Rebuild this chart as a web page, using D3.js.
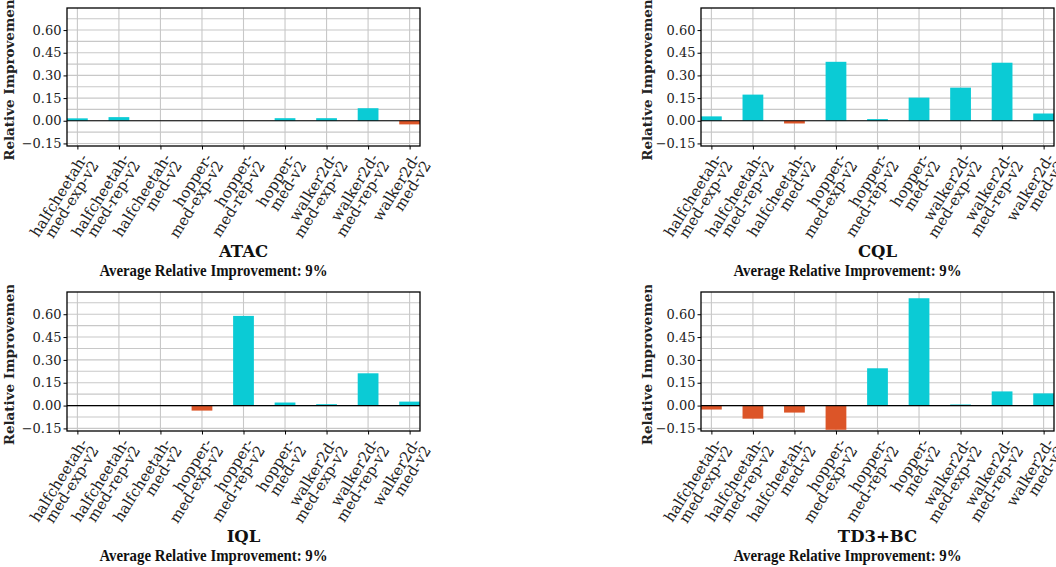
<!DOCTYPE html>
<html><head><meta charset="utf-8">
<script src="https://cdn.jsdelivr.net/npm/d3@7"></script>
<style>body{margin:0;background:#fff;} svg{display:block;}</style>
</head><body>
<svg id="chart" width="1056" height="567"></svg>
<script>
const categories = ["halfcheetah-med-exp-v2","halfcheetah-med-rep-v2","halfcheetah-med-v2",
  "hopper-med-exp-v2","hopper-med-rep-v2","hopper-med-v2",
  "walker2d-med-exp-v2","walker2d-med-rep-v2","walker2d-med-v2"];
const methods = ["ATAC","CQL","IQL","TD3+BC"];
const atacValues  = [0.016, 0.024, 0, 0, 0, 0.017, 0.017, 0.083, -0.024];
const cqlValues   = [0.029, 0.173, -0.018, 0.390, 0.011, 0.153, 0.219, 0.384, 0.048];
const iqlValues   = [0, 0, 0, -0.033, 0.589, 0.020, 0.009, 0.212, 0.026];
const td3bcValues = [-0.026, -0.086, -0.046, -0.159, 0.245, 0.705, 0.007, 0.093, 0.080];
const avgImprovementLabels = ["9%","9%","9%","9%"];
const yTickValues = [-0.15, 0, 0.15, 0.30, 0.45, 0.60];
const yGridValues = [-0.15,-0.075,0,0.075,0.15,0.225,0.30,0.375,0.45,0.525,0.60,0.675];
const yDomain = [-0.167, 0.746];
const yLabelText = "Relative Improvement";

const seriesValues = [atacValues, cqlValues, iqlValues, td3bcValues];

const panels = [
  {x0:67,  x1:420,  y0:8,   y1:146, clipTop:0,   labX:13.5},
  {x0:701, x1:1054, y0:8,   y1:146, clipTop:0,   labX:652},
  {x0:67,  x1:420,  y0:292, y1:431, clipTop:285, labX:13.5},
  {x0:701, x1:1054, y0:292, y1:431, clipTop:285, labX:652}
];

const svg = d3.select("#chart");
const defs = svg.append("defs");
const POS = "#0bcbd5", NEG = "#dc5528", GRID = "#c8c8c8";
const tickFont = "'DejaVu Serif', serif";

panels.forEach((p, i) => {
  const vals = seriesValues[i];
  const x = d3.scalePoint().domain(categories).range([p.x0, p.x1]).padding(0.25);
  const bw = x.step() * 0.5;
  const y = d3.scaleLinear().domain(yDomain).range([p.y1, p.y0]);
  const g = svg.append("g");

  defs.append("clipPath").attr("id", "plot" + i)
    .append("rect").attr("x", p.x0).attr("y", p.y0).attr("width", p.x1 - p.x0).attr("height", p.y1 - p.y0);
  defs.append("clipPath").attr("id", "lab" + i)
    .append("rect").attr("x", 0).attr("y", p.clipTop).attr("width", 1056).attr("height", 567 - p.clipTop);

  const plot = g.append("g").attr("clip-path", `url(#plot${i})`);
  plot.selectAll("line.hg").data(yGridValues).join("line")
    .attr("x1", p.x0).attr("x2", p.x1).attr("y1", d => y(d)).attr("y2", d => y(d))
    .attr("stroke", GRID).attr("stroke-width", 1.1);
  plot.selectAll("line.vg").data(categories).join("line")
    .attr("y1", p.y0).attr("y2", p.y1).attr("x1", d => x(d)).attr("x2", d => x(d))
    .attr("stroke", GRID).attr("stroke-width", 1.1);
  plot.selectAll("rect.bar").data(categories.map((c, k) => ({c, v: vals[k]}))).join("rect")
    .attr("x", d => x(d.c) - bw / 2).attr("width", bw)
    .attr("y", d => Math.min(y(d.v), y(0))).attr("height", d => Math.abs(y(d.v) - y(0)))
    .attr("fill", d => d.v >= 0 ? POS : NEG);
  plot.append("line").attr("x1", p.x0).attr("x2", p.x1).attr("y1", y(0)).attr("y2", y(0))
    .attr("stroke", "#000").attr("stroke-width", 1.2);

  g.append("rect").attr("x", p.x0).attr("y", p.y0).attr("width", p.x1 - p.x0).attr("height", p.y1 - p.y0)
    .attr("fill", "none").attr("stroke", "#000").attr("stroke-width", 1.3);

  const ya = g.append("g").attr("transform", `translate(${p.x0},0)`)
    .call(d3.axisLeft(y).tickValues(yTickValues).tickSize(3.5).tickPadding(2).tickFormat(d3.format(".2f")));
  ya.select(".domain").remove();
  ya.selectAll("text").attr("font-family", tickFont).attr("font-size", 13).attr("fill", "#222");

  const xa = g.append("g").attr("transform", `translate(0,${p.y1})`)
    .call(d3.axisBottom(x).tickSize(3.5).tickFormat(""));
  xa.select(".domain").remove();

  categories.forEach(c => {
    const cut = c.indexOf("-") + 1;
    const lines = [c.slice(0, cut), c.slice(cut)];
    const t = g.append("text")
      .attr("transform", `translate(${x(c) + 11},${p.y1 + 12}) rotate(-58)`)
      .attr("text-anchor", "end").attr("font-family", tickFont).attr("font-size", 15).attr("fill", "#222");
    lines.forEach((ln, j) => t.append("tspan").attr("x", 0).attr("y", j * 13).text(ln));
  });

  g.append("g").attr("clip-path", `url(#lab${i})`)
    .append("text")
    .attr("transform", `translate(${p.labX},${(p.y0 + p.y1) / 2}) rotate(-90)`)
    .attr("text-anchor", "middle").attr("font-family", tickFont).attr("font-weight", "bold")
    .attr("font-size", 13.5).attr("fill", "#222").text(yLabelText);

  const cx = (p.x0 + p.x1) / 2;
  g.append("text").attr("x", cx).attr("y", p.y1 + 111).attr("text-anchor", "middle")
    .attr("font-family", "'DejaVu Serif', serif").attr("font-weight", "bold").attr("font-size", 16.5)
    .attr("fill", "#111").text(methods[i]);
  g.append("text").attr("transform", `translate(${cx - 30},${p.y1 + 129.5}) scale(0.9,1)`)
    .attr("text-anchor", "middle")
    .attr("font-family", "'Liberation Serif', serif").attr("font-weight", "bold").attr("font-size", 16.5)
    .attr("fill", "#111").text("Average Relative Improvement: " + avgImprovementLabels[i]);
});
</script>
</body></html>
